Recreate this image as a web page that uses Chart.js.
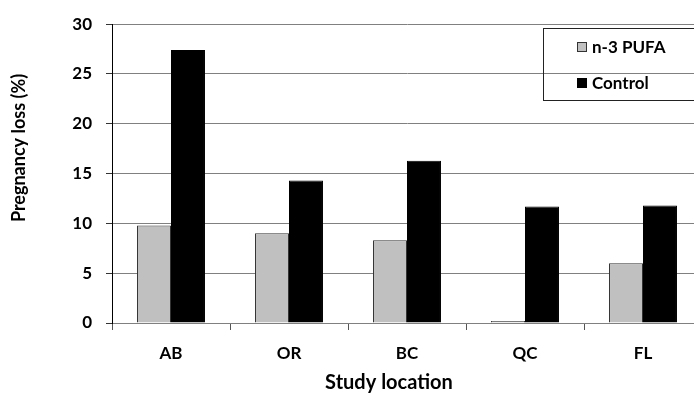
<!DOCTYPE html>
<html>
<head>
<meta charset="utf-8">
<script src="https://cdn.jsdelivr.net/npm/chart.js@4"></script>
<style>
  html, body { margin: 0; padding: 0; background: #fff; overflow: hidden; }
  #wrap { width: 710px; height: 394px; }
</style>
</head>
<body>
<div id="wrap"><canvas id="chart" width="710" height="394"></canvas></div>
<script>
// chart values
const locations = ['AB', 'OR', 'BC', 'QC', 'FL'];
const pufaLoss = [9.8, 9.0, 8.3, 0.2, 6.0];
const controlLoss = [27.4, 14.3, 16.3, 11.7, 11.8];
const yTicks = [0, 5, 10, 15, 20, 25, 30];

const FONT = 'Lato, "Open Sans", sans-serif';

// legend box drawn inside the plot, top right
const boxLegend = {
    id: 'boxLegend',
    afterDraw(chart) {
        const ctx = chart.ctx;
        ctx.save();
        ctx.strokeStyle = '#222';
        ctx.lineWidth = 1;
        ctx.strokeRect(543.5, 28.5, 160, 72);
        ctx.font = 'bold 17px ' + FONT;
        ctx.textBaseline = 'middle';
        ctx.textAlign = 'left';
        chart.data.datasets.forEach((ds, i) => {
            const cy = 47 + i * 36;
            ctx.fillStyle = ds.backgroundColor;
            ctx.fillRect(577, cy - 5, 10, 10);
            ctx.strokeStyle = ds.borderColor;
            ctx.strokeRect(577.5, cy - 4.5, 9, 9);
            ctx.fillStyle = '#000';
            ctx.fillText(ds.label, 592, cy + 1);
        });
        ctx.restore();
    }
};

// axis titles, placed where the original has them
const axisTitles = {
    id: 'axisTitles',
    afterDraw(chart) {
        const ctx = chart.ctx;
        ctx.save();
        ctx.fillStyle = '#000';
        ctx.textAlign = 'center';
        ctx.textBaseline = 'alphabetic';
        ctx.font = 'bold 20px ' + FONT;
        ctx.fillText('Study location', 389, 389);
        ctx.translate(25, 148);
        ctx.rotate(-Math.PI / 2);
        ctx.font = 'bold 18px ' + FONT;
        ctx.fillText('Pregnancy loss (%)', 0, 0);
        ctx.restore();
    }
};

new Chart(document.getElementById('chart'), {
    type: 'bar',
    data: {
        labels: locations,
        datasets: [
            { label: 'n-3 PUFA', data: pufaLoss, backgroundColor: '#c0c0c0', borderColor: '#333333', borderWidth: 1 },
            { label: 'Control', data: controlLoss, backgroundColor: '#000000', borderColor: '#000000', borderWidth: 1 }
        ]
    },
    options: {
        responsive: false,
        animation: false,
        layout: { padding: { top: 16, right: 8, left: 0, bottom: 0 } },
        datasets: { bar: { categoryPercentage: 0.576, barPercentage: 1.0 } },
        plugins: { legend: { display: false }, tooltip: { enabled: false } },
        scales: {
            x: {
                afterFit: s => { s.height = 71; },
                grid: { drawOnChartArea: false, drawTicks: true, tickLength: 7, color: '#555', offset: true },
                border: { color: '#808080', width: 1 },
                ticks: { color: '#000', font: { family: FONT, size: 17, weight: 'bold' }, padding: 13 }
            },
            y: {
                min: 0, max: 30,
                afterFit: s => { s.width = 112; },
                afterBuildTicks: s => { s.ticks = yTicks.map(v => ({ value: v })); },
                grid: { color: '#808080', lineWidth: 1, tickLength: 6, tickColor: '#333' },
                border: { color: '#000', width: 1 },
                ticks: { color: '#000', font: { family: FONT, size: 17, weight: 'bold' }, padding: 14 }
            }
        }
    },
    plugins: [boxLegend, axisTitles]
});
</script>
</body>
</html>
